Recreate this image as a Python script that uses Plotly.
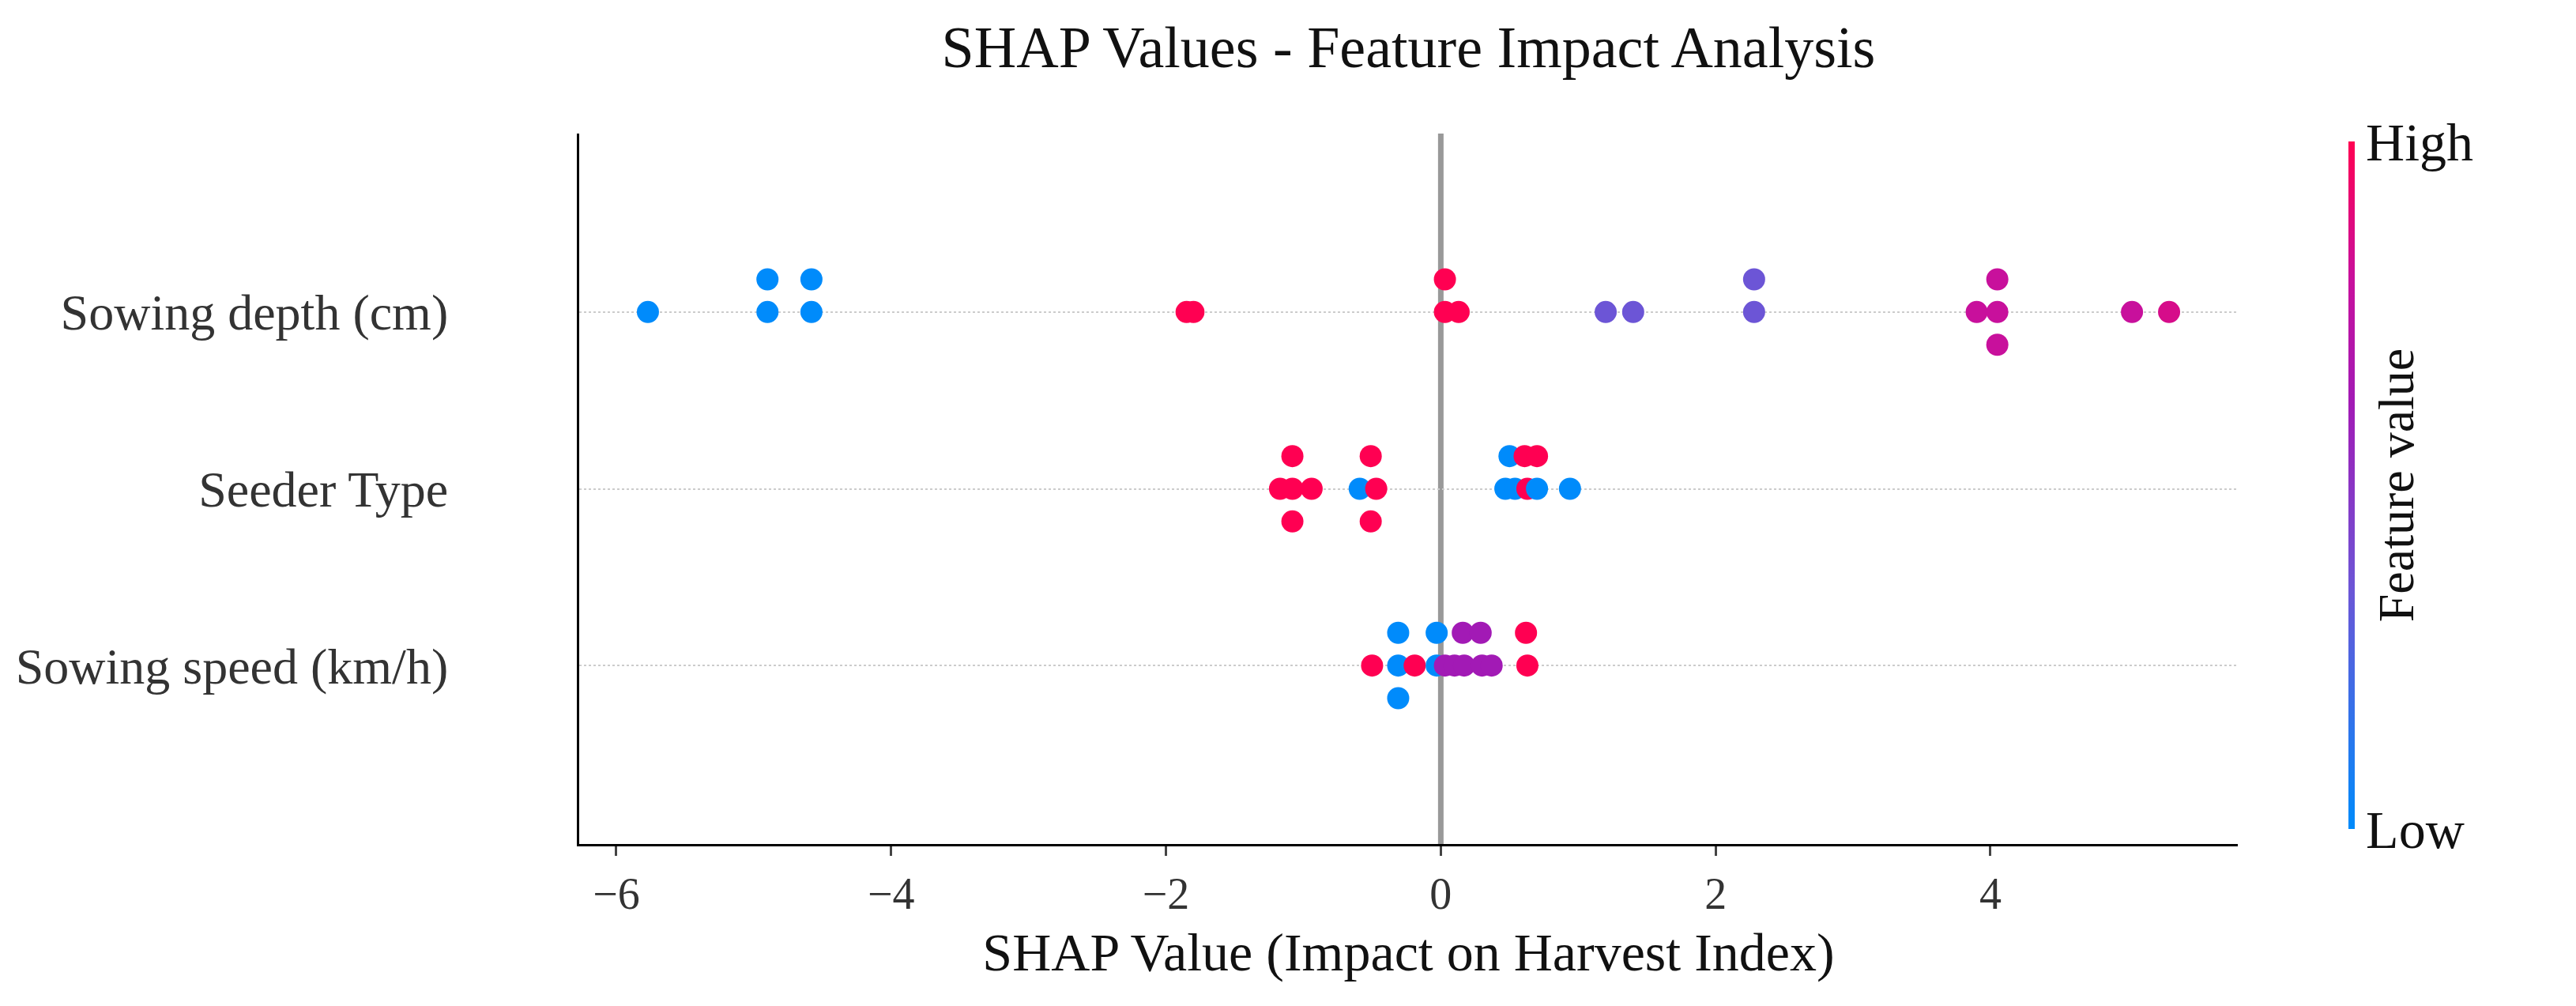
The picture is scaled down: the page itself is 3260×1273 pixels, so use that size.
import plotly.graph_objects as go

features = ["Sowing speed (km/h)", "Seeder Type", "Sowing depth (cm)"]

# SHAP values, jitter level (-1,0,1) and normalized feature value per row
depth_shap = [-5.77, -4.9, -4.9, -4.58, -4.58, -1.85, -1.8, 0.03, 0.03, 0.13, 1.2, 1.4, 2.28, 2.28, 3.9, 4.05, 4.05, 4.05, 5.03, 5.3]
depth_lvl  = [0, 0, 1, 0, 1, 0, 0, 1, 0, 0, 0, 0, 0, 1, 0, 0, 1, -1, 0, 0]
depth_val  = [0, 0, 0, 0, 0, 1, 1, 1, 1, 1, 0.35, 0.35, 0.35, 0.35, 0.8, 0.8, 0.8, 0.8, 0.8, 0.85]

seeder_shap = [-1.08, -0.51, -1.17, -1.08, -0.94, -0.59, -0.47, 0.50, 0.61, 0.70, 0.47, 0.54, 0.63, 0.70, 0.94, -1.08, -0.51]
seeder_lvl  = [1, 1, 0, 0, 0, 0, 0, 1, 1, 1, 0, 0, 0, 0, 0, -1, -1]
seeder_val  = [1, 1, 1, 1, 1, 0, 1, 0, 1, 1, 0, 0, 1, 0, 0, 1, 1]

speed_shap = [-0.31, -0.03, 0.16, 0.29, 0.62, -0.50, -0.31, -0.19, -0.03, 0.03, 0.10, 0.17, 0.30, 0.37, 0.63, -0.31]
speed_lvl  = [1, 1, 1, 1, 1, 0, 0, 0, 0, 0, 0, 0, 0, 0, 0, -1]
speed_val  = [0, 0, 0.62, 0.62, 1, 1, 0, 1, 0, 0.62, 0.62, 0.62, 0.62, 0.62, 1, 0]

JIT = 0.185
xs, ys, cs = [], [], []
for row, (s, l, v) in enumerate([(speed_shap, speed_lvl, speed_val),
                                 (seeder_shap, seeder_lvl, seeder_val),
                                 (depth_shap, depth_lvl, depth_val)]):
    xs += s
    ys += [row + JIT * k for k in l]
    cs += v

scale = [[0, "#008bfb"], [0.35, "#6c55d6"], [0.62, "#a21ab5"], [0.8, "#c8109c"], [1, "#ff0052"]]
font = "Liberation Serif, Times New Roman, serif"

fig = go.Figure(go.Scatter(
    x=xs, y=ys, mode="markers",
    marker=dict(size=28, color=cs, colorscale=scale, cmin=0, cmax=1,
                colorbar=dict(thickness=8, lenmode="pixels", len=890, x=1.0, xref="paper",
                              xpad=140, yanchor="top", y=1.0, outlinewidth=0,
                              tickvals=[0, 1], ticktext=["Low", "High"], ticks="",
                              tickfont=dict(size=68, family=font, color="#111"),
                              title=dict(text="Feature value", side="right",
                                         font=dict(size=64, family=font, color="#111")))),
    showlegend=False))

fig.add_shape(type="line", x0=0, x1=0, y0=0, y1=1, yref="paper",
              line=dict(color="#999999", width=7), layer="below")

fig.update_layout(
    width=3260, height=1273, plot_bgcolor="white", paper_bgcolor="white",
    margin=dict(l=667, r=387, t=161, b=213),
    font=dict(family=font, color="#222"),
    title=dict(text="SHAP Values - Feature Impact Analysis", x=0.5, xref="paper",
               y=0.98, yanchor="top", font=dict(size=74, family=font, color="#111")),
    xaxis=dict(range=[-6.27, 5.8], tickvals=[-6, -4, -2, 0, 2, 4],
               ticktext=["−6", "−4", "−2", "0", "2", "4"], showgrid=False, zeroline=False,
               showline=True, linecolor="black", linewidth=3, ticks="outside",
               ticklen=12, tickwidth=3, tickfont=dict(size=56, color="#333"),
               title=dict(text="SHAP Value (Impact on Harvest Index)", font=dict(size=68, color="#111"), standoff=20)),
    yaxis=dict(range=[-1.01, 3.01], tickvals=[0, 1, 2], ticktext=features,
               showgrid=True, gridcolor="#cccccc", griddash="dot", gridwidth=2,
               zeroline=False, showline=True, linecolor="black", linewidth=3,
               ticks="", tickfont=dict(size=64, color="#333"), ticklabelstandoff=150),
)
fig.write_html("out.html")
